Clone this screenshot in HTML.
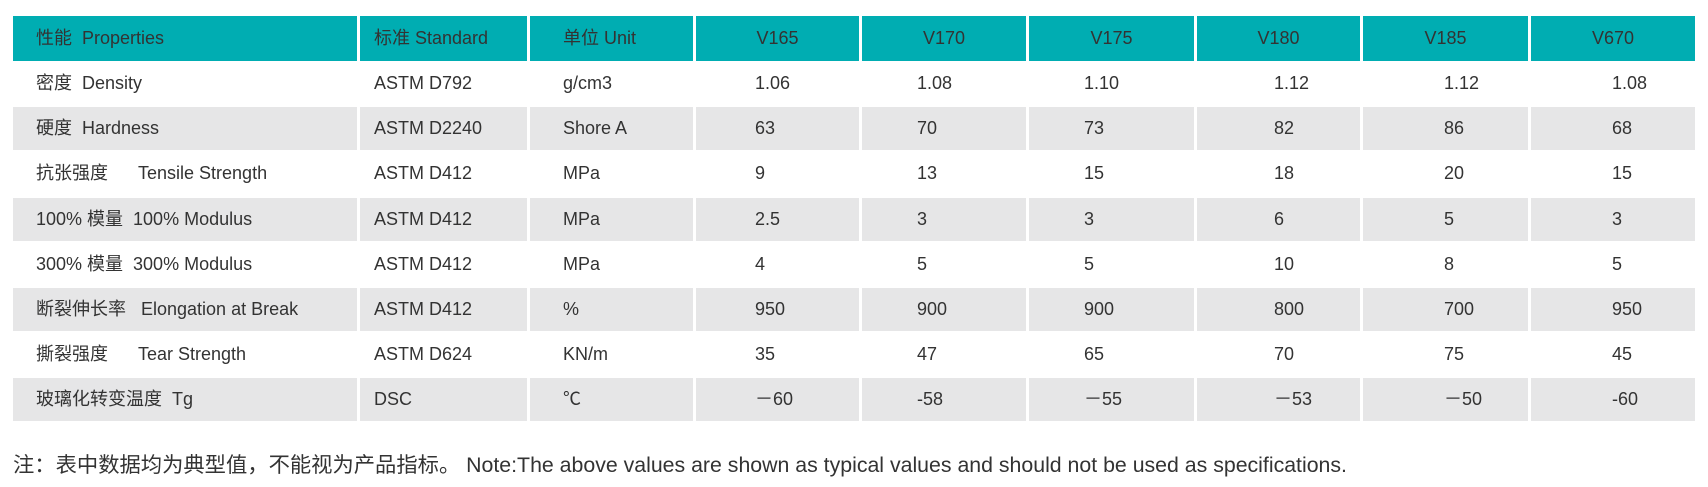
<!DOCTYPE html>
<html><head><meta charset="utf-8"><style>
body{margin:0;width:1708px;height:487px;background:#fff;position:relative;overflow:hidden;font-family:"Liberation Sans","Noto Sans CJK SC",sans-serif;color:#333;font-size:18px}
.c{position:absolute;box-sizing:border-box;white-space:pre;overflow:hidden}
.h{background:#00adb2}
.g{background:#e6e6e7}
</style></head><body>
<div id="t"></div>
<div class="c" style="left:13px;top:450px;height:30px;line-height:30px;font-size:21.3px">注：表中数据均为典型值，不能视为产品指标。 Note:The above values are shown as typical values and should not be used as specifications.</div>
<script>
const cols=[[13,357],[360,527],[530,693],[696,859],[862,1026],[1029,1194],[1197,1360],[1363,1528],[1531,1695]];
const pad=[23,14,33,59,55,55,77,81,81];
const rows=[
["性能  Properties","标准 Standard","单位 Unit","V165","V170","V175","V180","V185","V670"],
["密度  Density","ASTM D792","g/cm3","1.06","1.08","1.10","1.12","1.12","1.08"],
["硬度  Hardness","ASTM D2240","Shore A","63","70","73","82","86","68"],
["抗张强度      Tensile Strength","ASTM D412","MPa","9","13","15","18","20","15"],
["100% 模量  100% Modulus","ASTM D412","MPa","2.5","3","3","6","5","3"],
["300% 模量  300% Modulus","ASTM D412","MPa","4","5","5","10","8","5"],
["断裂伸长率   Elongation at Break","ASTM D412","%","950","900","900","800","700","950"],
["撕裂强度      Tear Strength","ASTM D624","KN/m","35","47","65","70","75","45"],
["玻璃化转变温度  Tg","DSC","℃","－60","-58","－55","－53","－50","-60"]];
let h="";
rows.forEach((r,i)=>{
 const top=i==0?16:62+(i-1)*45.2;
 const ht=i==0?45:43;
 const cls=i==0?"h":(i%2==0?"g":"");
 r.forEach((t,j)=>{
  const [a,b]=cols[j];
  let st=`left:${a}px;top:${top}px;width:${b-a}px;height:${ht}px;line-height:${ht}px;`;
  if(i==0&&j>=3)st+="text-align:center;";else st+=`padding-left:${pad[j]}px;`;
  h+=`<div class="c ${cls}" style="${st}">${t}</div>`;
 });
});
document.getElementById("t").innerHTML=h;
</script>
</body></html>
